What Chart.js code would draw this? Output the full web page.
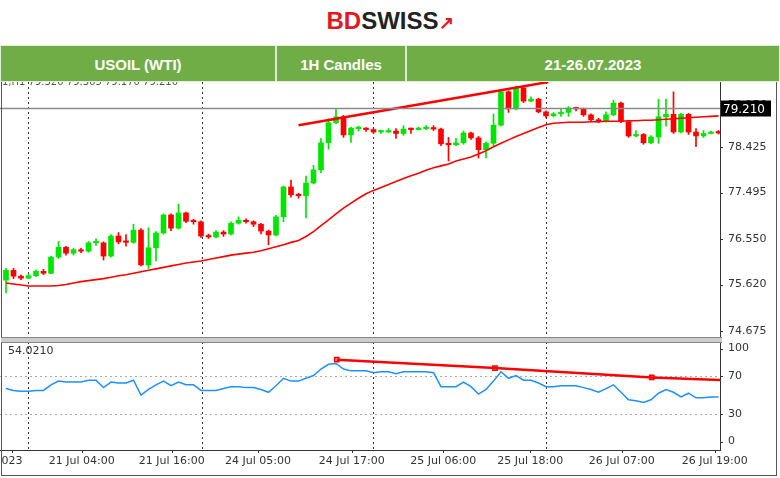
<!DOCTYPE html>
<html><head><meta charset="utf-8">
<script src="https://cdn.jsdelivr.net/npm/chart.js@4.4.0/dist/chart.umd.min.js"></script>
<style>
body{margin:0;width:780px;height:478px;background:#fff;position:relative;overflow:hidden;font-family:"DejaVu Sans",sans-serif}
#logo{position:absolute;top:7px;left:0;width:780px;text-align:center;font:bold 24px "Liberation Sans",Arial,sans-serif}
#bar{position:absolute;top:45px;left:0;width:778px;height:35px;background:#70AD47;z-index:3;border:1px solid #e3efda}
.cell{position:absolute;top:0;height:35px;color:#fff;font:bold 15px "Liberation Sans",Arial,sans-serif;line-height:37px;text-align:center;border-right:2px solid #d9ead0}
#ohlc{position:absolute;top:76px;left:2px;font:10px "DejaVu Sans";color:#555;z-index:1}
#rsiv{position:absolute;top:344px;left:8px;font:11px "DejaVu Sans";color:#333;z-index:2}
#c1{position:absolute;left:0;top:80px}
#c2{position:absolute;left:0;top:340px}
#frame{position:absolute;left:1px;top:80px;width:776px;height:396px;border:1px solid #555;border-top:none;box-sizing:border-box;pointer-events:none}
#sep{position:absolute;left:1px;top:337px;width:721px;height:4px;border-top:1px solid #888;border-bottom:1px solid #888;background:#ccc;z-index:2}
</style></head><body>
<div id="logo"><span style="color:#e3181f">BD</span><span style="color:#222">SWISS</span><span style="color:#e3181f;font-size:18px">&#8599;</span></div>
<div id="bar">
<div class="cell" style="left:0;width:274px">USOIL (WTI)</div>
<div class="cell" style="left:276px;width:128px">1H Candles</div>
<div class="cell" style="left:406px;width:372px;border:none">21-26.07.2023</div>
</div>
<div id="ohlc">1,H1 79.320 79.365 79.170 79.210</div>
<div id="rsiv">54.0210</div>
<canvas id="c1" width="780" height="260"></canvas>
<canvas id="c2" width="780" height="138"></canvas>
<div id="sep"></div>
<div id="frame"></div>
<script>
const opens=[75.71,75.91,75.79,75.75,75.80,75.89,75.85,76.18,76.38,76.26,76.33,76.30,76.47,76.47,76.20,76.61,76.49,76.48,76.73,76.02,76.37,76.67,77.04,76.77,77.08,76.91,76.90,76.61,76.59,76.69,76.65,76.87,76.93,76.90,76.85,76.71,76.63,77.00,77.61,77.45,77.43,77.69,77.96,78.51,78.92,79.04,78.67,78.80,78.80,78.78,
78.73,78.73,78.75,78.70,78.79,78.78,78.80,78.82,78.79,78.49,78.47,78.51,78.71,78.61,78.37,78.50,78.87,79.55,79.20,79.63,79.36,79.40,79.14,79.06,79.10,79.13,79.22,79.20,79.08,78.98,78.95,79.08,79.32,78.94,78.65,78.68,78.51,78.63,79.04,79.09,78.73,79.09,78.73,78.65,78.70,78.72];
const closes=[75.91,75.79,75.75,75.80,75.89,75.85,76.18,76.38,76.26,76.33,76.30,76.47,76.47,76.20,76.61,76.49,76.48,76.73,76.02,76.37,76.67,77.04,76.77,77.08,76.91,76.90,76.61,76.59,76.69,76.65,76.87,76.93,76.90,76.85,76.71,76.63,77.00,77.61,77.45,77.43,77.69,77.96,78.51,78.92,79.04,78.67,78.81,78.80,78.78,78.73,
78.73,78.75,78.70,78.79,78.78,78.80,78.82,78.79,78.49,78.47,78.51,78.71,78.61,78.37,78.50,78.87,79.55,79.20,79.63,79.36,79.40,79.14,79.06,79.10,79.13,79.22,79.20,79.08,78.98,78.95,79.08,79.32,78.94,78.65,78.68,78.51,78.63,79.04,79.09,78.73,79.09,78.73,78.65,78.70,78.72,78.71];
const highs=[75.95,75.95,75.82,75.84,75.92,75.93,76.20,76.50,76.40,76.36,76.36,76.50,76.55,76.49,76.64,76.68,76.64,76.85,76.76,76.78,76.70,77.06,77.06,77.26,77.10,76.95,76.92,76.65,76.72,76.72,76.90,77.00,76.96,76.92,76.87,76.73,77.03,77.63,77.75,77.48,77.83,78.05,78.60,79.00,79.20,79.07,78.83,78.85,78.82,78.80,
78.77,78.80,78.80,78.86,78.81,78.83,78.86,78.86,78.81,78.62,78.60,78.75,78.73,78.64,78.53,79.10,79.58,79.57,79.66,79.65,79.45,79.42,79.16,79.13,79.20,79.25,79.24,79.22,79.10,79.01,79.14,79.38,79.34,78.96,78.76,78.70,78.66,79.40,79.40,79.55,79.11,79.11,78.80,78.76,78.75,78.76];
const lows=[75.45,75.74,75.72,75.74,75.78,75.82,75.84,76.15,76.22,76.22,76.27,76.28,76.42,76.12,76.18,76.45,76.40,76.46,76.00,75.95,76.10,76.65,76.72,76.75,76.88,76.85,76.58,76.56,76.57,76.60,76.63,76.85,76.87,76.80,76.65,76.43,76.61,76.90,77.40,77.38,76.98,77.67,77.90,78.38,78.90,78.62,78.52,78.75,78.74,78.70,
78.70,78.72,78.60,78.66,78.70,78.77,78.78,78.76,78.45,78.14,78.45,78.48,78.58,78.20,78.20,78.45,78.85,79.13,79.18,79.33,79.35,79.12,79.02,79.04,79.05,79.05,79.16,79.05,78.95,78.92,78.93,79.06,78.92,78.62,78.63,78.48,78.49,78.50,78.85,78.70,78.71,78.68,78.43,78.62,78.69,78.69];
const movingAvg=[75.65,75.63,75.61,75.59,75.59,75.59,75.59,75.60,75.62,75.65,75.68,75.70,75.72,75.74,75.77,75.80,75.82,75.85,75.88,75.91,75.94,75.97,76.00,76.03,76.06,76.08,76.10,76.13,76.16,76.19,76.22,76.24,76.26,76.28,76.31,76.35,76.39,76.43,76.48,76.52,76.60,76.70,76.82,76.94,77.06,77.18,77.28,77.38,77.47,77.54,
77.60,77.66,77.72,77.78,77.84,77.89,77.95,78.00,78.04,78.08,78.14,78.18,78.22,78.28,78.35,78.43,78.50,78.57,78.64,78.70,78.76,78.82,78.88,78.91,78.92,78.93,78.93,78.93,78.94,78.94,78.95,78.95,78.95,78.96,78.96,78.97,78.97,78.98,78.99,79.00,79.01,79.02,79.03,79.04,79.05,79.06];
const rsi=[57,55,54,54,55,55,61,65,64,64,64,66,66,58,64,63,63,66,50,56,61,65,60,64,61,61,55,55,55,57,59,59,58,58,56,53,60,68,65,65,68,71,78,83,84,78,76,76,76,74,
75,75,73,75,75,75,75,74,59,59,59,64,59,51,56,65,75,68,71,66,66,63,59,59,60,60,60,58,56,53,57,61,53,45,44,42,45,52,56,53,48,52,47,47,48,48];
const priceTrend=[{x:39,y:78.87},{x:72.3,y:79.75}];
const rsiTrend=[{x:44.1,y:88},{x:65.2,y:79},{x:86.1,y:69},{x:95.6,y:66}];
const rsiMarks=[{x:44.1,y:88},{x:65.2,y:79},{x:86.1,y:69}];
const priceTicks=[79.276,78.425,77.495,76.550,75.620,74.675];
const rsiTicks=[100,70,30,0];
const timeTickIdx=[0.8,10.1,22.1,33.6,46.1,58.3,69.9,82.1,94.5];
const timeLabels=["023","21 Jul 04:00","21 Jul 16:00","24 Jul 05:00","24 Jul 17:00","25 Jul 06:00","25 Jul 18:00","26 Jul 07:00","26 Jul 19:00"];
const sepIdx=[2.9,26.1,48.9,72.0,95.2];
const lastPrice=79.21;

const GREEN='#00e600',RED='#ff0000';
const col=opens.map((o,i)=>closes[i]>=o?GREEN:RED);
const XMIN=-0.8,XMAX=95.2;
const FONT='11px "DejaVu Sans"';
const vlines={id:'vl',beforeDatasetsDraw(c){const x=c.scales.x,a=c.chartArea,g=c.ctx;g.save();g.strokeStyle='#333';g.lineWidth=1;g.setLineDash([2,3]);
 sepIdx.forEach(v=>{const p=Math.round(x.getPixelForValue(v))+0.5;g.beginPath();g.moveTo(p,a.top);g.lineTo(p,a.bottom);g.stroke();});g.restore();}};
function yLabels(ticks,fmt){return {id:'yl',afterDraw(c){const y=c.scales.y,a=c.chartArea,g=c.ctx;g.save();g.fillStyle='#333';g.font=FONT;g.textBaseline='middle';
 ticks.forEach(v=>{const p=y.getPixelForValue(v);g.fillText(fmt(v),a.right+8,p);g.fillRect(a.right,Math.round(p),3,1);});g.restore();}};}
const fixW=s=>{s.width=60;};
const common={responsive:false,animation:false,events:[],plugins:{legend:{display:false},tooltip:{enabled:false}}};
const yAxisBase={position:'right',afterFit:fixW,grid:{display:false},border:{display:true,color:'#333'},ticks:{display:false}};

new Chart(document.getElementById('c1'),{
 type:'bar',
 data:{datasets:[
  {type:'line',data:priceTrend,borderColor:RED,borderWidth:2.5,pointRadius:0,order:0},
  {type:'line',data:movingAvg.map((v,i)=>({x:i,y:v})),borderColor:RED,borderWidth:1.6,pointRadius:0,order:1},
  {data:opens.map((o,i)=>({x:i,y:[Math.min(o,closes[i]),Math.max(o,closes[i])]})),backgroundColor:col,barThickness:5,minBarLength:1.5,grouped:false,order:2},
  {data:highs.map((h,i)=>({x:i,y:[lows[i],h]})),backgroundColor:col,barThickness:1,grouped:false,order:3}
 ]},
 options:{...common,layout:{autoPadding:false,padding:{top:2,bottom:2,left:0,right:0}},
  scales:{
   x:{type:'linear',min:XMIN,max:XMAX,offset:false,display:false},
   y:{...yAxisBase,min:74.53,max:79.75}
  }},
 plugins:[vlines,yLabels(priceTicks,v=>v.toFixed(3)),{id:'last',afterDraw(c){const y=c.scales.y,a=c.chartArea,g=c.ctx;const p=Math.round(y.getPixelForValue(lastPrice))+0.5;
  g.save();g.strokeStyle='#8a8a8a';g.lineWidth=1.5;g.beginPath();g.moveTo(a.left,p);g.lineTo(a.right,p);g.stroke();
  g.fillStyle='#000';g.fillRect(a.right+1,p-8,50,16);g.fillStyle='#fff';g.font='12px "DejaVu Sans"';g.textBaseline='middle';g.fillText(lastPrice.toFixed(3),a.right+3,p+1);g.restore();}}]
});

new Chart(document.getElementById('c2'),{
 type:'line',
 data:{datasets:[
  {data:rsiTrend,borderColor:RED,borderWidth:2.5,pointRadius:0},
  {data:rsiMarks,showLine:false,pointStyle:'rect',pointRadius:3,borderColor:RED,backgroundColor:'#ffaaaa',borderWidth:1.5},
  {data:rsi.map((v,i)=>({x:i,y:v})),borderColor:'#1e90ff',borderWidth:1.5,pointRadius:0}
 ]},
 options:{...common,layout:{autoPadding:false,padding:{top:2,bottom:28,left:0,right:0}},
  scales:{
   x:{type:'linear',min:XMIN,max:XMAX,offset:false,display:false},
   y:{...yAxisBase,min:-9,max:107}
  }},
 plugins:[vlines,yLabels(rsiTicks,v=>String(v)),
  {id:'dash',beforeDatasetsDraw(c){const y=c.scales.y,a=c.chartArea,g=c.ctx;g.save();g.strokeStyle='#aaa';g.setLineDash([2,3]);
  [70,30].forEach(v=>{const p=Math.round(y.getPixelForValue(v))+0.5;g.beginPath();g.moveTo(a.left,p);g.lineTo(a.right,p);g.stroke();});g.restore();},
  afterDraw(c){const x=c.scales.x,a=c.chartArea,g=c.ctx;g.save();g.strokeStyle='#333';g.beginPath();g.moveTo(a.left,a.bottom+0.5);g.lineTo(a.right,a.bottom+0.5);g.stroke();
  g.fillStyle='#333';g.font=FONT;g.textAlign='center';g.textBaseline='top';
  timeTickIdx.forEach((v,i)=>{const p=x.getPixelForValue(v);g.fillRect(Math.round(p),a.bottom,1,3);g.fillText(timeLabels[i],Math.max(p,12),a.bottom+6);});g.restore();}}]
});
</script>
</body></html>
